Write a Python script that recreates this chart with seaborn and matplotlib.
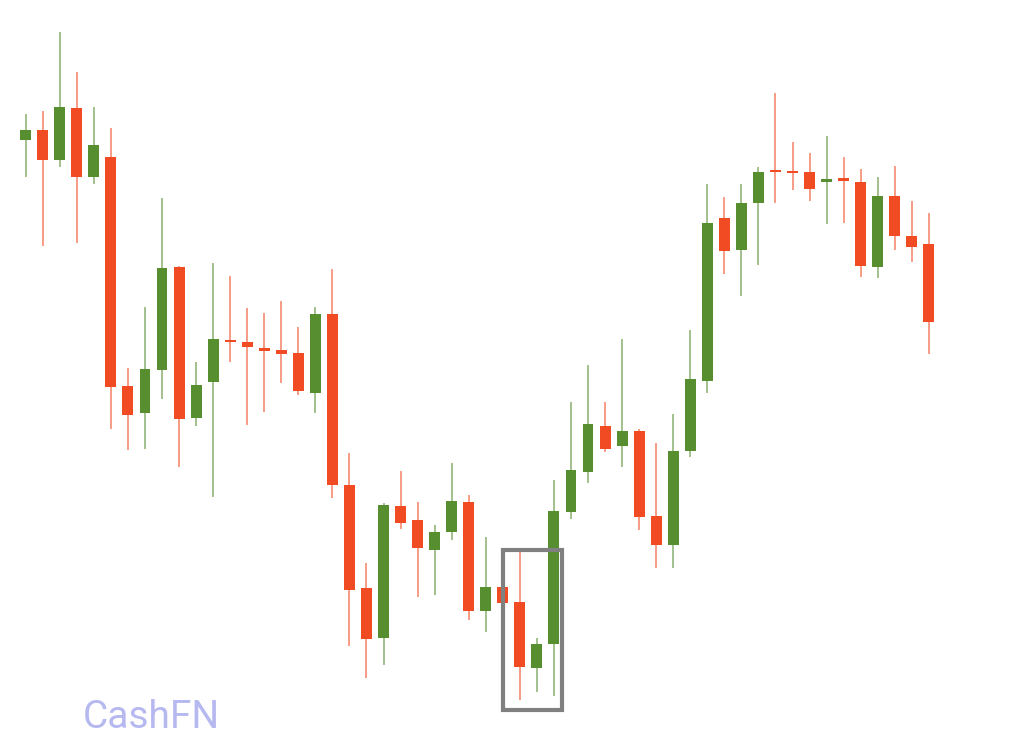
import numpy as np
import matplotlib
matplotlib.use("Agg")
import matplotlib.pyplot as plt
import seaborn as sns
from matplotlib.patches import Rectangle

# --- Candle data (open, high, low, close) ---
opens = [605, 615, 585, 637, 568, 588, 359, 332, 375, 478, 327, 363, 405, 403,
         397, 395, 392, 352, 431, 260, 157, 107, 239, 225, 195, 213, 243, 134,
         158, 143, 77, 101, 233, 273, 319, 299, 314, 229, 200, 294, 364, 527,
         495, 542, 575, 574, 573, 563, 567, 563, 478, 549, 509, 501]
highs = [631, 634, 713, 673, 638, 617, 377, 438, 547, 479, 383, 482, 469, 437,
         432, 444, 418, 438, 476, 292, 182, 242, 274, 243, 220, 282, 250, 208,
         160, 193, 107, 265, 343, 380, 343, 406, 316, 302, 331, 415, 561, 548,
         561, 578, 652, 603, 592, 609, 588, 576, 568, 579, 544, 532]
lows = [568, 499, 578, 502, 561, 316, 295, 296, 346, 278, 319, 248, 383, 320,
        333, 362, 350, 332, 247, 99, 67, 80, 216, 148, 150, 205, 125, 113,
        140, 45, 53, 49, 226, 262, 293, 278, 215, 177, 177, 288, 352, 471,
        449, 480, 542, 555, 544, 521, 522, 468, 467, 495, 483, 391]
closes = [615, 585, 638, 568, 600, 358, 330, 376, 477, 326, 360, 406, 403, 398,
          394, 391, 354, 431, 260, 155, 106, 240, 222, 197, 213, 244, 134, 158,
          142, 78, 101, 234, 275, 321, 296, 314, 228, 200, 294, 366, 522, 494,
          542, 573, 573, 572, 556, 566, 564, 479, 549, 509, 498, 423]

# highlighted pattern: candles 29..32
box_start, box_end = 28, 31.45
box_low, box_high = 35, 195
watermark = "CashFN"

UP = "#578e2f"
DOWN = "#f04b22"

sns.set_theme(style="white")
fig = plt.figure(figsize=(10.24, 7.45), dpi=100)
ax = fig.add_axes([0, 0, 1, 1])

idx = np.arange(len(opens))
o = np.array(opens); h = np.array(highs); l = np.array(lows); c = np.array(closes)
up = c >= o
colors = np.where(up, UP, DOWN)

# wicks
ax.vlines(idx, l, h, colors=colors, linewidth=1.4, alpha=0.55, zorder=1)
# bodies
body_low = np.minimum(o, c)
body_h = np.maximum(np.abs(c - o), 2)
ax.bar(idx, body_h, bottom=body_low, width=0.64, color=colors, linewidth=0, zorder=2)

# highlight box
ax.add_patch(Rectangle((box_start, box_low), box_end - box_start, box_high - box_low,
                       fill=False, edgecolor="#808080", linewidth=3.0, zorder=3))

ax.text(0.081, 0.012, watermark, transform=ax.transAxes, fontsize=28,
        color="#b6b8f0", family=["Roboto", "DejaVu Sans"],
        ha="left", va="bottom")

ax.set_xlim(-25.7 / 17.04, (1024 - 25.7) / 17.04)
ax.set_ylim(0, 745)
ax.axis("off")

fig.savefig("out.png", dpi=100, facecolor="white")
